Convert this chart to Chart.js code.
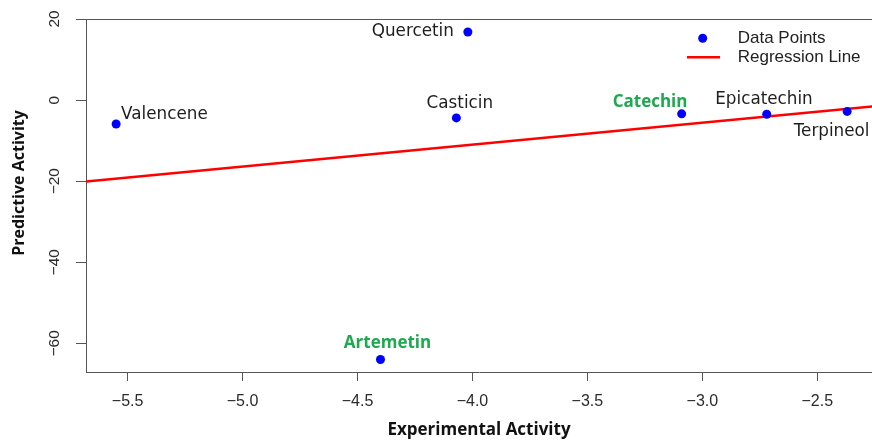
<!DOCTYPE html>
<html>
<head>
<meta charset="utf-8">
<script src="https://cdn.jsdelivr.net/npm/chart.js@4"></script>
<style>
  html, body { margin: 0; padding: 0; background: #ffffff; }
  #wrap { width: 872px; height: 440px; }
</style>
</head>
<body>
<div id="wrap"><canvas id="c" width="872" height="440"></canvas></div>
<script>
// ---- data ----
const compounds    = ['Valencene', 'Quercetin', 'Casticin', 'Catechin', 'Epicatechin', 'Terpineol', 'Artemetin'];
const experimental = [-5.55, -4.02, -4.07, -3.09, -2.72, -2.37, -4.40];
const predictive   = [-5.9, 16.8, -4.4, -3.4, -3.5, -2.8, -64.0];
const highlighted  = [false, false, false, true, false, false, true];
const regressionX  = [-5.68, -2.26];
const regressionY  = [-20.1, -1.6];
const xTicks       = [-5.5, -5.0, -4.5, -4.0, -3.5, -3.0, -2.5];
const xTickLabels  = ['\u22125.5', '\u22125.0', '\u22124.5', '\u22124.0', '\u22123.5', '\u22123.0', '\u22122.5'];
const yTicks       = [-60, -40, -20, 0, 20];
const yTickLabels  = ['\u221260', '\u221240', '\u221220', '0', '20'];
const legendLabels = ['Data Points', 'Regression Line'];

// ---- label placement (dx, dy, align) ----
const labelPlacement = [
  [5, -9, 'left'], [-14, 0, 'right'], [3.5, -14, 'center'], [-31.6, -12, 'center'],
  [-2.7, -15, 'center'], [-15.6, 20, 'center'], [7, -16, 'center']
];

const AXIS_COLOR = '#555555';
const TEXT_COLOR = '#2b2b2b';
const GREEN = 'rgb(30,168,80)';

const overlay = {
  id: 'overlay',
  afterDraw(chart) {
    const ctx = chart.ctx;
    const ca = chart.chartArea;
    const ys = chart.scales.y;
    ctx.save();
    // top border
    ctx.strokeStyle = AXIS_COLOR;
    ctx.lineWidth = 1;
    ctx.beginPath();
    ctx.moveTo(ca.left, ca.top + 0.5);
    ctx.lineTo(ca.right, ca.top + 0.5);
    ctx.stroke();

    // y tick labels (rotated, R style)
    ctx.fillStyle = TEXT_COLOR;
    ctx.font = '15.5px "Liberation Sans", Arial, sans-serif';
    ctx.textAlign = 'center';
    ctx.textBaseline = 'middle';
    yTicks.forEach((v, i) => {
      const py = ys.getPixelForValue(v);
      ctx.save();
      ctx.translate(55, py);
      ctx.rotate(-Math.PI / 2);
      ctx.fillText(yTickLabels[i], 0, 0);
      ctx.restore();
    });

    // y axis title
    ctx.save();
    ctx.fillStyle = '#111111';
    ctx.font = 'bold 16px "Open Sans", sans-serif';
    ctx.translate(19, 183);
    ctx.rotate(-Math.PI / 2);
    ctx.fillText('Predictive Activity', 0, 0);
    ctx.restore();

    // point labels
    const meta = chart.getDatasetMeta(0);
    meta.data.forEach((pt, i) => {
      const [dx, dy, align] = labelPlacement[i];
      if (highlighted[i]) {
        ctx.fillStyle = GREEN;
        ctx.font = 'bold 17px "Open Sans", sans-serif';
      } else {
        ctx.fillStyle = '#1e1e1e';
        ctx.font = '16.8px "DejaVu Sans", sans-serif';
      }
      ctx.textAlign = align;
      ctx.textBaseline = 'middle';
      ctx.fillText(compounds[i], pt.x + dx, pt.y + dy);
    });

    // legend
    ctx.fillStyle = '#0000ff';
    ctx.beginPath();
    ctx.arc(702.7, 38.3, 4.5, 0, Math.PI * 2);
    ctx.fill();
    ctx.strokeStyle = '#ff0000';
    ctx.lineWidth = 2.5;
    ctx.beginPath();
    ctx.moveTo(687, 57.3);
    ctx.lineTo(720, 57.3);
    ctx.stroke();
    ctx.fillStyle = '#222222';
    ctx.font = '17px "Liberation Sans", Arial, sans-serif';
    ctx.textAlign = 'left';
    ctx.textBaseline = 'middle';
    ctx.fillText(legendLabels[0], 737.7, 38.5);
    ctx.fillText(legendLabels[1], 737.7, 57.5);
    ctx.restore();
  }
};

new Chart(document.getElementById('c'), {
  type: 'scatter',
  data: {
    datasets: [
      {
        label: legendLabels[0],
        data: experimental.map((x, i) => ({ x: x, y: predictive[i] })),
        backgroundColor: '#0000ff',
        borderColor: '#0000ff',
        pointRadius: 4.5,
        pointBorderWidth: 0,
        clip: false
      },
      {
        type: 'line',
        label: legendLabels[1],
        data: regressionX.map((x, i) => ({ x: x, y: regressionY[i] })),
        borderColor: '#ff0000',
        borderWidth: 2.5,
        pointRadius: 0,
        fill: false
      }
    ]
  },
  options: {
    responsive: false,
    animation: false,
    layout: { autoPadding: false, padding: { top: 19, left: 0, right: 0, bottom: 0 } },
    plugins: {
      legend: { display: false },
      tooltip: { enabled: false }
    },
    scales: {
      x: {
        type: 'linear',
        min: -5.681,
        max: -2.262,
        afterFit(s) { s.height = 68; s.paddingLeft = 0; s.paddingRight = 0; },
        afterBuildTicks(s) { s.ticks = xTicks.map(v => ({ value: v })); },
        ticks: {
          includeBounds: false,
          autoSkip: false,
          maxRotation: 0,
          padding: 11,
          color: TEXT_COLOR,
          font: { family: '"Liberation Sans", Arial, sans-serif', size: 16 },
          callback: (v) => { const i = xTicks.indexOf(v); return i >= 0 ? xTickLabels[i] : ''; }
        },
        grid: { drawOnChartArea: false, drawTicks: true, tickLength: 9, color: AXIS_COLOR, lineWidth: 1 },
        border: { display: true, color: AXIS_COLOR, width: 1 },
        title: {
          display: true,
          text: 'Experimental Activity',
          color: '#111111',
          font: { family: '"Open Sans", sans-serif', size: 17, weight: 'bold', lineHeight: 1.2 },
          padding: { top: 0, bottom: 0 }
        }
      },
      y: {
        type: 'linear',
        min: -67.07,
        max: 20,
        afterFit(s) { s.width = 86; s.paddingTop = 0; s.paddingBottom = 0; },
        afterBuildTicks(s) { s.ticks = yTicks.map(v => ({ value: v })); },
        ticks: { display: false },
        grid: { drawOnChartArea: false, drawTicks: true, tickLength: 10, color: AXIS_COLOR, lineWidth: 1 },
        border: { display: true, color: AXIS_COLOR, width: 1 }
      }
    }
  },
  plugins: [overlay]
});
</script>
</body>
</html>
